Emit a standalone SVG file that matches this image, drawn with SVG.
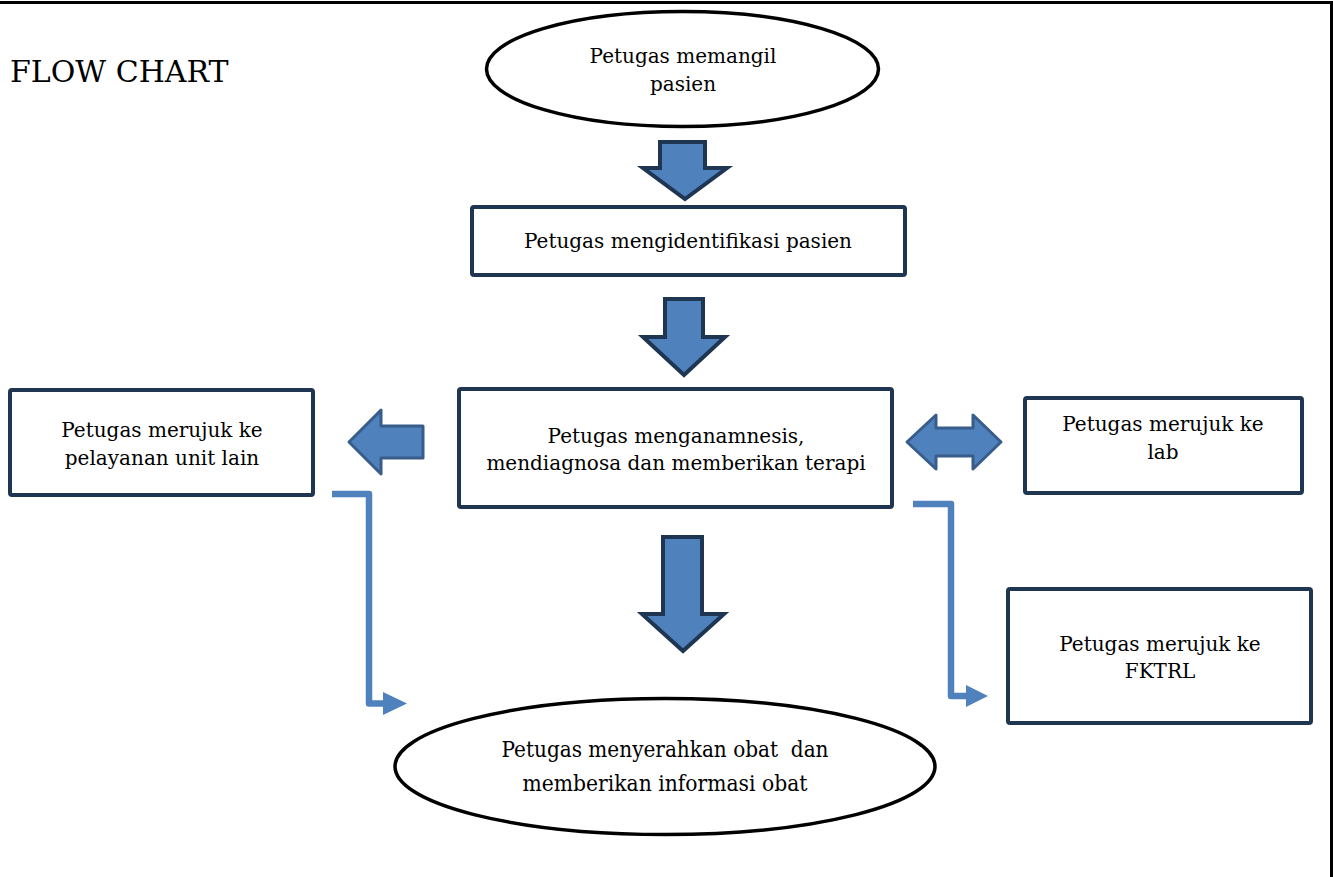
<svg xmlns="http://www.w3.org/2000/svg" width="1333" height="877" viewBox="0 0 1333 877">
<style>
  .t { font-family: "DejaVu Serif", "Liberation Serif", serif; font-size: 20px; fill: #000; text-anchor: middle; }
  .title { font-family: "DejaVu Serif", "Liberation Serif", serif; font-size: 30px; fill: #000; }
  .box { fill: #fff; stroke: #1F3652; stroke-width: 4; }
  .oval { fill: #fff; stroke: #000; stroke-width: 3.5; }
  .barrow { fill: #4F81BD; stroke: #1F3652; stroke-width: 4; stroke-linejoin: miter; }
  .sarrow { fill: #4F81BD; stroke: #385D8A; stroke-width: 3; stroke-linejoin: round; }
  .elbow { fill: none; stroke: #4F81BD; stroke-width: 6.5; stroke-linejoin: round; }
  .head { fill: #4F81BD; }
</style>
<rect x="0" y="0" width="1333" height="877" fill="#fff"/>
<g id="frame">
  <line x1="0" y1="2.5" x2="1333" y2="2.5" stroke="#000" stroke-width="3"/>
  <line x1="1331.5" y1="1" x2="1331.5" y2="877" stroke="#000" stroke-width="3"/>
</g>
<text class="title" x="10" y="82">FLOW CHART</text>

<g id="connectors">
  <polygon class="barrow" points="660,142 705,142 705,168 727,168 685,199 643,168 660,168"/>
  <polygon class="barrow" points="665,299 703,299 703,337 725,337 684,375 643,337 665,337"/>
  <polygon class="barrow" points="663,537 702,537 702,614 724,614 683,651 642,614 663,614"/>
  <polygon class="sarrow" points="349,442 381,410 381,426 423,426 423,458 381,458 381,474"/>
  <polygon class="sarrow" points="907,442 936,415 936,428 973,428 973,415 1001,442 973,469 973,456 936,456 936,469"/>
  <polyline class="elbow" points="332,494 369,494 369,703.5 385,703.5"/>
  <polygon class="head" points="383,692 407,703.5 383,715"/>
  <polyline class="elbow" points="913,504 951,504 951,696 967,696"/>
  <polygon class="head" points="966,685 988,696 966,707"/>
</g>

<g id="node-start">
  <ellipse class="oval" cx="682.5" cy="69" rx="196" ry="57.5"/>
  <text class="t" x="683" y="63">Petugas memangil</text>
  <text class="t" x="683" y="91">pasien</text>
</g>
<g id="node-identify">
  <rect class="box" x="472" y="207" width="433" height="68" rx="2"/>
  <text class="t" x="688" y="248">Petugas mengidentifikasi pasien</text>
</g>
<g id="node-anamnesis">
  <rect class="box" x="459" y="389" width="433" height="118" rx="2"/>
  <text class="t" x="676" y="443">Petugas menganamnesis,</text>
  <text class="t" x="676" y="470">mendiagnosa dan memberikan terapi</text>
</g>
<g id="node-unit-lain">
  <rect class="box" x="10" y="390" width="303" height="105" rx="2"/>
  <text class="t" x="162" y="437">Petugas merujuk ke</text>
  <text class="t" x="162" y="465">pelayanan unit lain</text>
</g>
<g id="node-lab">
  <rect class="box" x="1025" y="398" width="277" height="95" rx="2"/>
  <text class="t" x="1163" y="431">Petugas merujuk ke</text>
  <text class="t" x="1163" y="459">lab</text>
</g>
<g id="node-fktrl">
  <rect class="box" x="1008" y="589" width="303" height="134" rx="2"/>
  <text class="t" x="1160" y="651">Petugas merujuk ke</text>
  <text class="t" x="1160" y="678">FKTRL</text>
</g>
<g id="node-end">
  <ellipse class="oval" cx="665" cy="766.5" rx="270" ry="68"/>
  <text class="t" x="665" y="757" style="font-size:22px" xml:space="preserve" textLength="327" lengthAdjust="spacingAndGlyphs">Petugas menyerahkan obat  dan</text>
  <text class="t" x="665" y="791" style="font-size:22px" textLength="285" lengthAdjust="spacingAndGlyphs">memberikan informasi obat</text>
</g>
</svg>
